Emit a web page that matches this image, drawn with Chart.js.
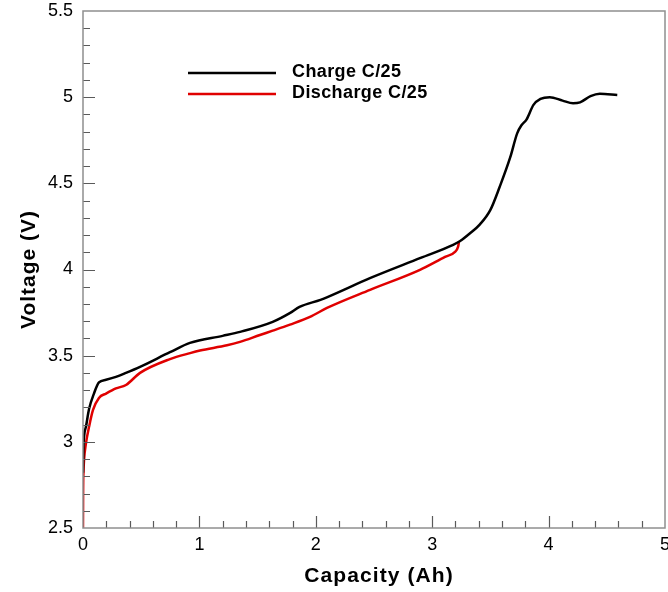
<!DOCTYPE html>
<html>
<head>
<meta charset="utf-8">
<title>Voltage vs Capacity</title>
<script src="https://cdn.jsdelivr.net/npm/chart.js@4/dist/chart.umd.min.js"></script>
<style>
  html, body { margin: 0; padding: 0; background: #fff; }
  #wrap { width: 668px; height: 592px; }
</style>
</head>
<body>
<div id="wrap"><canvas id="voltChart" width="668" height="592"></canvas></div>
<script>
// Charge C/25 curve
const chargeCap = [0, 0.003, 0.009, 0.026, 0.052, 0.094, 0.137, 0.198, 0.283, 0.369, 0.49, 0.747, 0.919,
    1.2, 1.35, 1.63, 1.78, 1.86, 2.04, 2.1, 2.47, 2.9, 3.18, 3.24, 3.325, 3.41, 3.5, 3.58, 3.67, 3.73,
    3.77, 3.81, 3.87, 3.93, 4.01, 4.12, 4.21, 4.27, 4.36, 4.44, 4.59];
const chargeVolt = [2.82, 2.95, 3.03, 3.09, 3.19, 3.28, 3.345, 3.36, 3.377, 3.4, 3.435, 3.52, 3.574,
    3.615, 3.638, 3.696, 3.748, 3.783, 3.824, 3.84, 3.951, 4.067, 4.143, 4.165, 4.21, 4.262, 4.346, 4.48, 4.65, 4.79,
    4.84, 4.87, 4.955, 4.99, 5.0, 4.98, 4.965, 4.97, 5.006, 5.02, 5.013];

// Discharge C/25 curve
const dischargeCap = [0, 0.001, 0.004, 0.009, 0.026, 0.052, 0.086, 0.137, 0.198, 0.283, 0.369, 0.49, 0.747,
    0.92, 1.005, 1.237, 1.349, 1.52, 1.63, 1.778, 1.95, 2.096, 2.466, 2.895, 3.11, 3.196, 3.222, 3.23];
const dischargeVolt = [2.5, 2.7, 2.82, 2.895, 2.994, 3.087, 3.185, 3.255, 3.28, 3.31, 3.33, 3.4, 3.48,
    3.515, 3.53, 3.56, 3.58, 3.62, 3.645, 3.68, 3.725, 3.777, 3.882, 3.998, 4.073, 4.102, 4.131, 4.16];

const seriesLabels = ['Charge C/25', 'Discharge C/25'];
const xTitle = 'Capacity (Ah)';
const yTitle = 'Voltage (V)';

const toPoints = (xs, ys) => xs.map((x, i) => ({ x: x, y: ys[i] }));

// frame + inward tick marks, like the original plot
const frameTicks = {
    id: 'frameTicks',
    afterDraw(chart) {
        const { ctx, chartArea: a, scales: { x, y } } = chart;
        ctx.save();
        ctx.strokeStyle = '#5a5a5a';
        ctx.lineWidth = 1.2;
        ctx.beginPath();
        for (let i = 1; i < 25; i++) {
            const px = Math.round(x.getPixelForValue(i * 0.2)) + 0.5;
            const len = i % 5 === 0 ? 12 : 7;
            ctx.moveTo(px, a.bottom);
            ctx.lineTo(px, a.bottom - len);
        }
        for (let i = 1; i < 30; i++) {
            const py = Math.round(y.getPixelForValue(2.5 + i * 0.1)) + 0.5;
            const len = i % 5 === 0 ? 12 : 7;
            ctx.moveTo(a.left, py);
            ctx.lineTo(a.left + len, py);
        }
        ctx.stroke();
        ctx.strokeStyle = '#8f8f8f';
        ctx.lineWidth = 1.5;
        ctx.strokeRect(a.left, a.top, a.right - a.left, a.bottom - a.top);
        ctx.restore();
    }
};

// legend inside the plot + the wide bold axis titles
const innerLegend = {
    id: 'innerLegend',
    afterDraw(chart) {
        const ctx = chart.ctx;
        const a = chart.chartArea;
        ctx.save();
        ctx.font = 'bold 18px "Liberation Sans", Arial, sans-serif';
        ctx.letterSpacing = '0.4px';
        ctx.textBaseline = 'alphabetic';
        chart.data.datasets.forEach((ds, i) => {
            const yy = 73 + i * 21;
            ctx.strokeStyle = ds.borderColor;
            ctx.lineWidth = 2.5;
            ctx.beginPath();
            ctx.moveTo(188, yy);
            ctx.lineTo(276, yy);
            ctx.stroke();
            ctx.fillStyle = '#000';
            ctx.fillText(ds.label, 292, yy + 4);
        });

        ctx.font = 'bold 21px "Liberation Sans", Arial, sans-serif';
        ctx.letterSpacing = '1.1px';
        ctx.textAlign = 'center';
        ctx.fillText(xTitle, (a.left + a.right) / 2 + 5, 582);

        ctx.translate(35, (a.top + a.bottom) / 2);
        ctx.rotate(-Math.PI / 2);
        ctx.letterSpacing = '1px';
        ctx.fillText(yTitle, 0, 0);
        ctx.restore();
    }
};

const tickFont = { family: '"Liberation Sans", Arial, sans-serif', size: 18 };

new Chart(document.getElementById('voltChart'), {
    type: 'line',
    data: {
        datasets: [{
            label: seriesLabels[0],
            data: toPoints(chargeCap, chargeVolt),
            borderColor: '#000000',
            borderWidth: 2.5,
            pointRadius: 0,
            cubicInterpolationMode: 'monotone'
        }, {
            label: seriesLabels[1],
            data: toPoints(dischargeCap, dischargeVolt),
            borderColor: '#e00000',
            borderWidth: 2.5,
            pointRadius: 0,
            cubicInterpolationMode: 'monotone'
        }]
    },
    options: {
        responsive: false,
        animation: false,
        devicePixelRatio: 1,
        layout: { padding: { top: 11, right: 3, left: 0, bottom: 0 } },
        plugins: {
            legend: { display: false },
            tooltip: { enabled: false }
        },
        scales: {
            x: {
                type: 'linear',
                min: 0,
                max: 5,
                grid: { display: false },
                border: { display: false },
                ticks: { stepSize: 1, color: '#000', font: tickFont, padding: -2 },
                afterFit: function(scale) {
                    scale.height = 64;
                    scale.paddingRight = 3;
                }
            },
            y: {
                type: 'linear',
                min: 2.5,
                max: 5.5,
                grid: { display: false },
                border: { display: false },
                ticks: {
                    stepSize: 0.5, color: '#000', font: tickFont, padding: 2,
                    callback: function(value) { return String(value); }
                },
                afterFit: function(scale) {
                    scale.width = 83;
                    scale.paddingTop = 0;
                    scale.paddingBottom = 0;
                }
            }
        }
    },
    plugins: [frameTicks, innerLegend]
});
</script>
</body>
</html>
